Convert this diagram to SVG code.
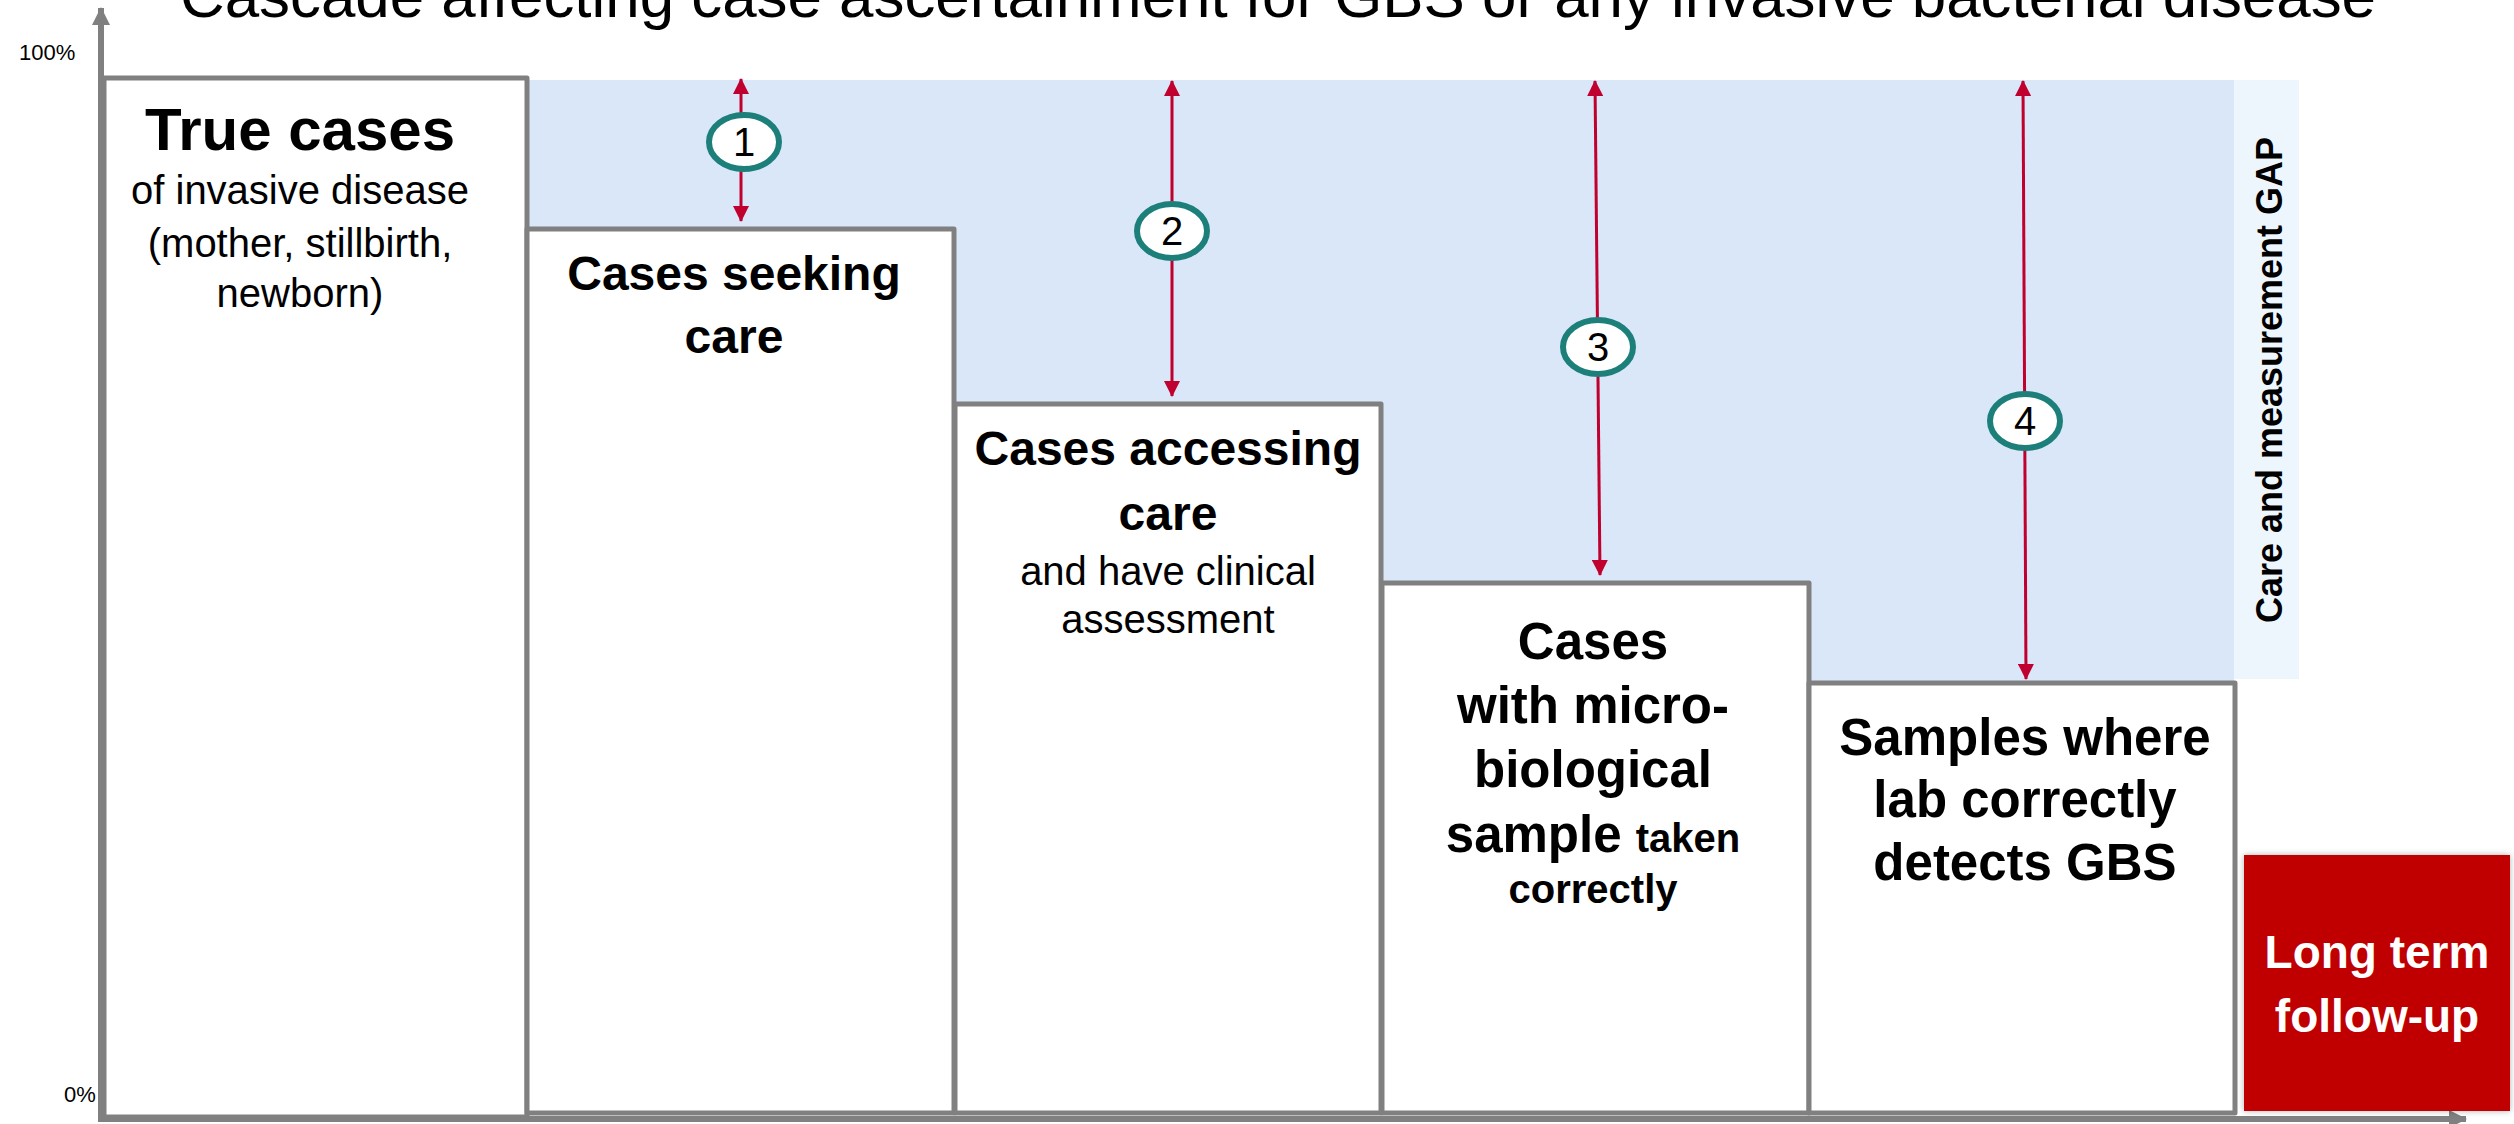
<svg xmlns="http://www.w3.org/2000/svg" width="2514" height="1124" viewBox="0 0 2514 1124">
  <defs>
    <style>
      text { font-family: "Liberation Sans", Arial, sans-serif; fill: #000; }
      .title { font-size: 62px; }
      .tick { font-size: 22px; }
      .big { font-size: 60px; font-weight: bold; text-anchor: middle; }
      .b46 { font-size: 48px; font-weight: bold; text-anchor: middle; }
      .b51 { font-size: 51px; font-weight: bold; text-anchor: middle; }
      .sm { font-size: 40px; text-anchor: middle; }
      .smb { font-size: 40px; font-weight: bold; }
      .num { font-size: 40px; text-anchor: middle; }
      .gap { font-size: 36px; font-weight: bold; text-anchor: middle; }
      .ltf { font-size: 46px; font-weight: bold; text-anchor: middle; fill: #ffffff; }
      .step { fill: #ffffff; stroke: #808080; stroke-width: 5; stroke-linejoin: round; }
      .axis { stroke: #808080; stroke-width: 6; fill: none; }
      .arr { stroke: #c0002f; stroke-width: 3; fill: none; marker-start: url(#ah); marker-end: url(#ah); }
      .badge { fill: #ffffff; stroke: #1d7f79; stroke-width: 6; }
    </style>
    <marker id="ah" markerUnits="userSpaceOnUse" viewBox="0 0 16 16" markerWidth="16" markerHeight="16" refX="15" refY="8" orient="auto-start-reverse">
      <path d="M0,0 L16,8 L0,16 z" fill="#c0002f"/>
    </marker>
    <marker id="axh" markerUnits="userSpaceOnUse" viewBox="0 0 18 18" markerWidth="18" markerHeight="18" refX="17" refY="9" orient="auto">
      <path d="M0,0 L18,9 L0,18 z" fill="#808080"/>
    </marker>
    <filter id="sh" x="-10%" y="-10%" width="120%" height="120%">
      <feDropShadow dx="0" dy="0" stdDeviation="3" flood-color="#000" flood-opacity="0.3"/>
    </filter>
  </defs>

  <rect width="2514" height="1124" fill="#ffffff"/>

  <text id="title" class="title" x="180" y="17" textLength="2196" lengthAdjust="spacingAndGlyphs">Cascade affecting case ascertainment for GBS or any invasive bacterial disease</text>

  <g id="gap-region">
    <rect x="527" y="80" width="1707" height="603" fill="#dae7f8"/>
    <rect x="2234" y="80" width="65" height="599" fill="#eef6fd"/>
    <text class="gap" transform="translate(2282,380) rotate(-90)">Care and measurement GAP</text>
  </g>

  <g id="axes">
    <line class="axis" x1="101" y1="1122" x2="101" y2="8" marker-end="url(#axh)"/>
    <line class="axis" x1="98" y1="1119" x2="2466" y2="1119" marker-end="url(#axh)"/>
    <text class="tick" x="19" y="60">100%</text>
    <text class="tick" x="64" y="1102">0%</text>
  </g>

  <g id="true-cases">
    <rect class="step" x="104" y="78" width="423" height="1039"/>
    <text class="big" x="300" y="150">True cases</text>
    <text class="sm" x="300" y="204">of invasive disease</text>
    <text class="sm" x="300" y="257">(mother, stillbirth,</text>
    <text class="sm" x="300" y="307">newborn)</text>
  </g>

  <g id="seeking-care">
    <rect class="step" x="527" y="229" width="427" height="884"/>
    <text class="b46" x="734" y="290">Cases seeking</text>
    <text class="b46" x="734" y="353">care</text>
  </g>

  <g id="accessing-care">
    <rect class="step" x="955" y="404" width="426" height="709"/>
    <text class="b46" x="1168" y="465">Cases accessing</text>
    <text class="b46" x="1168" y="530">care</text>
    <text class="sm" x="1168" y="585">and have clinical</text>
    <text class="sm" x="1168" y="633">assessment</text>
  </g>

  <g id="micro-sample">
    <rect class="step" x="1382" y="583" width="427" height="530"/>
    <text class="b51" x="1593" y="659">Cases</text>
    <text class="b51" x="1593" y="723">with micro-</text>
    <text class="b51" x="1593" y="787">biological</text>
    <text class="b51" x="1593" y="852">sample <tspan class="smb">taken</tspan></text>
    <text class="b51" x="1593" y="903" style="font-size:40px">correctly</text>
  </g>

  <g id="lab-detects">
    <rect class="step" x="1809" y="683" width="426" height="430"/>
    <text class="b51" x="2025" y="755">Samples where</text>
    <text class="b51" x="2025" y="817">lab correctly</text>
    <text class="b51" x="2025" y="880">detects GBS</text>
  </g>

  <g id="long-term">
    <rect x="2244" y="855" width="266" height="256" fill="#c00000" filter="url(#sh)"/>
    <text class="ltf" x="2377" y="968">Long term</text>
    <text class="ltf" x="2377" y="1032">follow-up</text>
  </g>

  <g id="connectors">
    <line class="arr" x1="741" y1="79" x2="741" y2="221"/>
    <line class="arr" x1="1172" y1="81" x2="1172" y2="396"/>
    <line class="arr" x1="1595" y1="81" x2="1600" y2="575"/>
    <line class="arr" x1="2023" y1="81" x2="2026" y2="679"/>
  </g>

  <g id="badge-1">
    <ellipse class="badge" cx="744" cy="142" rx="35" ry="27"/>
    <text class="num" x="744" y="156">1</text>
  </g>
  <g id="badge-2">
    <ellipse class="badge" cx="1172" cy="231" rx="35" ry="27"/>
    <text class="num" x="1172" y="245">2</text>
  </g>
  <g id="badge-3">
    <ellipse class="badge" cx="1598" cy="347" rx="35" ry="27"/>
    <text class="num" x="1598" y="361">3</text>
  </g>
  <g id="badge-4">
    <ellipse class="badge" cx="2025" cy="421" rx="35" ry="27"/>
    <text class="num" x="2025" y="435">4</text>
  </g>
</svg>
